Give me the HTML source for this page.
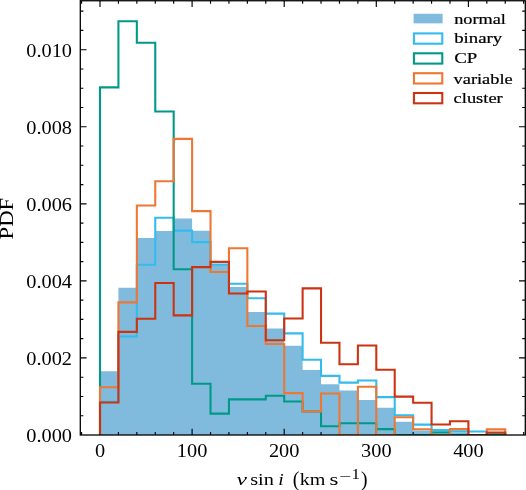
<!DOCTYPE html>
<html><head><meta charset="utf-8"><title>v sin i PDF</title>
<style>html,body{margin:0;padding:0;background:#fff}body{width:526px;height:490px;position:relative;overflow:hidden}</style>
</head><body>
<svg width="526" height="490" viewBox="0 0 526 490" style="position:absolute;left:0;top:0;will-change:transform">
<rect width="526" height="490" fill="#fff"/>
<defs><clipPath id="ax"><rect x="80.3" y="0.75" width="444.99999999999994" height="434.25"/></clipPath></defs>
<path d="M100.00 435.00 L100.00 371.30 L118.42 371.30 L118.42 287.80 L136.84 287.80 L136.84 238.10 L155.26 238.10 L155.26 231.00 L173.68 231.00 L173.68 218.60 L192.10 218.60 L192.10 230.70 L210.52 230.70 L210.52 265.20 L228.94 265.20 L228.94 287.00 L247.36 287.00 L247.36 312.00 L265.78 312.00 L265.78 328.40 L284.20 328.40 L284.20 345.70 L302.62 345.70 L302.62 370.10 L321.04 370.10 L321.04 384.30 L339.46 384.30 L339.46 390.60 L357.88 390.60 L357.88 400.00 L376.30 400.00 L376.30 407.80 L394.72 407.80 L394.72 421.70 L413.14 421.70 L413.14 430.60 L431.56 430.60 L431.56 433.20 L449.98 433.20 L449.98 432.60 L468.40 432.60 L468.40 435.00 L486.82 435.00 L505.24 435.00 Z" fill="#80bbdd" clip-path="url(#ax)"/>
<path d="M81.58 435.0 v-3.1 M81.58 0.75 v3.1 M100.00 435.0 v-6.25 M100.00 0.75 v6.25 M118.42 435.0 v-3.1 M118.42 0.75 v3.1 M136.84 435.0 v-3.1 M136.84 0.75 v3.1 M155.26 435.0 v-3.1 M155.26 0.75 v3.1 M173.68 435.0 v-3.1 M173.68 0.75 v3.1 M192.10 435.0 v-6.25 M192.10 0.75 v6.25 M210.52 435.0 v-3.1 M210.52 0.75 v3.1 M228.94 435.0 v-3.1 M228.94 0.75 v3.1 M247.36 435.0 v-3.1 M247.36 0.75 v3.1 M265.78 435.0 v-3.1 M265.78 0.75 v3.1 M284.20 435.0 v-6.25 M284.20 0.75 v6.25 M302.62 435.0 v-3.1 M302.62 0.75 v3.1 M321.04 435.0 v-3.1 M321.04 0.75 v3.1 M339.46 435.0 v-3.1 M339.46 0.75 v3.1 M357.88 435.0 v-3.1 M357.88 0.75 v3.1 M376.30 435.0 v-6.25 M376.30 0.75 v6.25 M394.72 435.0 v-3.1 M394.72 0.75 v3.1 M413.14 435.0 v-3.1 M413.14 0.75 v3.1 M431.56 435.0 v-3.1 M431.56 0.75 v3.1 M449.98 435.0 v-3.1 M449.98 0.75 v3.1 M468.40 435.0 v-6.25 M468.40 0.75 v6.25 M486.82 435.0 v-3.1 M486.82 0.75 v3.1 M505.24 435.0 v-3.1 M505.24 0.75 v3.1 M523.66 435.0 v-3.1 M523.66 0.75 v3.1 M80.3 415.74 h3.1 M525.3 415.74 h-3.1 M80.3 396.47 h3.1 M525.3 396.47 h-3.1 M80.3 377.20 h3.1 M525.3 377.20 h-3.1 M80.3 357.94 h6.25 M525.3 357.94 h-6.25 M80.3 338.68 h3.1 M525.3 338.68 h-3.1 M80.3 319.41 h3.1 M525.3 319.41 h-3.1 M80.3 300.14 h3.1 M525.3 300.14 h-3.1 M80.3 280.88 h6.25 M525.3 280.88 h-6.25 M80.3 261.62 h3.1 M525.3 261.62 h-3.1 M80.3 242.35 h3.1 M525.3 242.35 h-3.1 M80.3 223.09 h3.1 M525.3 223.09 h-3.1 M80.3 203.82 h6.25 M525.3 203.82 h-6.25 M80.3 184.55 h3.1 M525.3 184.55 h-3.1 M80.3 165.29 h3.1 M525.3 165.29 h-3.1 M80.3 146.03 h3.1 M525.3 146.03 h-3.1 M80.3 126.76 h6.25 M525.3 126.76 h-6.25 M80.3 107.50 h3.1 M525.3 107.50 h-3.1 M80.3 88.23 h3.1 M525.3 88.23 h-3.1 M80.3 68.97 h3.1 M525.3 68.97 h-3.1 M80.3 49.70 h6.25 M525.3 49.70 h-6.25 M80.3 30.44 h3.1 M525.3 30.44 h-3.1 M80.3 11.17 h3.1 M525.3 11.17 h-3.1" stroke="#000" stroke-width="1.15" fill="none"/>
<path d="M100.00 435.00 L100.00 401.80 L118.42 401.80 L118.42 336.50 L136.84 336.50 L136.84 264.70 L155.26 264.70 L155.26 217.80 L173.68 217.80 L173.68 230.60 L192.10 230.60 L192.10 242.10 L210.52 242.10 L210.52 264.60 L228.94 264.60 L228.94 283.80 L247.36 283.80 L247.36 298.20 L265.78 298.20 L265.78 313.60 L284.20 313.60 L284.20 333.40 L302.62 333.40 L302.62 359.80 L321.04 359.80 L321.04 375.90 L339.46 375.90 L339.46 382.60 L357.88 382.60 L357.88 380.50 L376.30 380.50 L376.30 397.10 L394.72 397.10 L394.72 415.30 L413.14 415.30 L413.14 424.60 L431.56 424.60 L431.56 430.00 L449.98 430.00 L449.98 431.40 L468.40 431.40 L468.40 431.50 L486.82 431.50 L486.82 435.00 L505.24 435.00" fill="none" stroke="#33bbee" stroke-width="2.08" stroke-linejoin="miter" stroke-linecap="butt" clip-path="url(#ax)"/>
<path d="M100.00 435.00 L100.00 87.40 L118.42 87.40 L118.42 21.30 L136.84 21.30 L136.84 42.70 L155.26 42.70 L155.26 111.50 L173.68 111.50 L173.68 269.30 L192.10 269.30 L192.10 383.70 L210.52 383.70 L210.52 413.60 L228.94 413.60 L228.94 399.40 L247.36 399.40 L265.78 399.40 L265.78 395.80 L284.20 395.80 L284.20 401.50 L302.62 401.50 L302.62 411.50 L321.04 411.50 L321.04 426.20 L339.46 426.20 L339.46 423.30 L357.88 423.30 L376.30 423.30 L376.30 429.10 L394.72 429.10 L394.72 435.00 L413.14 435.00 L431.56 435.00 L431.56 432.40 L449.98 432.40 L449.98 435.00 L468.40 435.00 L486.82 435.00 L486.82 434.40 L505.24 434.40 L505.24 435.00" fill="none" stroke="#009988" stroke-width="2.08" stroke-linejoin="miter" stroke-linecap="butt" clip-path="url(#ax)"/>
<path d="M100.00 435.00 L100.00 387.20 L118.42 387.20 L118.42 302.40 L136.84 302.40 L136.84 205.50 L155.26 205.50 L155.26 181.20 L173.68 181.20 L173.68 138.90 L192.10 138.90 L192.10 211.10 L210.52 211.10 L210.52 272.00 L228.94 272.00 L228.94 248.30 L247.36 248.30 L247.36 326.00 L265.78 326.00 L265.78 344.00 L284.20 344.00 L284.20 393.10 L302.62 393.10 L302.62 411.50 L321.04 411.50 L321.04 393.50 L339.46 393.50 L339.46 435.00 L357.88 435.00 L357.88 386.80 L376.30 386.80 L376.30 435.00 L394.72 435.00 L394.72 417.30 L413.14 417.30 L413.14 429.20 L431.56 429.20 L431.56 435.00 L449.98 435.00 L449.98 429.10 L468.40 429.10 L468.40 435.00 L486.82 435.00 L486.82 429.40 L505.24 429.40 L505.24 435.00" fill="none" stroke="#ee7733" stroke-width="2.08" stroke-linejoin="miter" stroke-linecap="butt" clip-path="url(#ax)"/>
<path d="M100.00 435.00 L100.00 402.50 L118.42 402.50 L118.42 331.90 L136.84 331.90 L136.84 318.70 L155.26 318.70 L155.26 283.00 L173.68 283.00 L173.68 315.40 L192.10 315.40 L192.10 267.10 L210.52 267.10 L210.52 261.90 L228.94 261.90 L228.94 293.50 L247.36 293.50 L247.36 291.50 L265.78 291.50 L265.78 340.20 L284.20 340.20 L284.20 318.50 L302.62 318.50 L302.62 288.40 L321.04 288.40 L321.04 342.80 L339.46 342.80 L339.46 364.30 L357.88 364.30 L357.88 345.50 L376.30 345.50 L376.30 369.70 L394.72 369.70 L394.72 396.60 L413.14 396.60 L413.14 402.70 L431.56 402.70 L431.56 424.50 L449.98 424.50 L449.98 421.30 L468.40 421.30 L468.40 435.00 L486.82 435.00 L486.82 432.50 L505.24 432.50 L505.24 435.00" fill="none" stroke="#cc3311" stroke-width="2.08" stroke-linejoin="miter" stroke-linecap="butt" clip-path="url(#ax)"/>
<rect x="80.3" y="0.75" width="444.99999999999994" height="434.25" fill="none" stroke="#000" stroke-width="1.3"/>
<rect x="413.59999999999997" y="13.75" width="29.000000000000036" height="9.6" fill="#80bbdd"/>
<rect x="413.9" y="33.4" width="28.400000000000034" height="10.3" fill="none" stroke="#33bbee" stroke-width="2.08"/>
<rect x="413.9" y="53.3" width="28.400000000000034" height="10.3" fill="none" stroke="#009988" stroke-width="2.08"/>
<rect x="413.9" y="73.2" width="28.400000000000034" height="10.3" fill="none" stroke="#ee7733" stroke-width="2.08"/>
<rect x="413.9" y="93.0" width="28.400000000000034" height="10.3" fill="none" stroke="#cc3311" stroke-width="2.08"/>
<text transform="translate(454.20 23.80) scale(1.209 1.0)" text-anchor="start" font-family="Liberation Serif, DejaVu Serif, serif" font-size="15.1" stroke="#000" stroke-width="0.22" fill="#000">normal</text>
<text transform="translate(454.20 43.10) scale(1.245 1.0)" text-anchor="start" font-family="Liberation Serif, DejaVu Serif, serif" font-size="15.1" stroke="#000" stroke-width="0.22" fill="#000">binary</text>
<text transform="translate(454.20 63.10) scale(1.248 1.0)" text-anchor="start" font-family="Liberation Serif, DejaVu Serif, serif" font-size="15.1" stroke="#000" stroke-width="0.22" fill="#000">CP</text>
<text transform="translate(453.60 83.60) scale(1.215 1.0)" text-anchor="start" font-family="Liberation Serif, DejaVu Serif, serif" font-size="15.1" stroke="#000" stroke-width="0.22" fill="#000">variable</text>
<text transform="translate(453.60 103.40) scale(1.222 1.0)" text-anchor="start" font-family="Liberation Serif, DejaVu Serif, serif" font-size="15.1" stroke="#000" stroke-width="0.22" fill="#000">cluster</text>
<text transform="translate(100.00 457.00) scale(1.1 1.0)" text-anchor="middle" font-family="Liberation Serif, DejaVu Serif, serif" font-size="18.5" fill="#000">0</text>
<text transform="translate(192.10 457.00) scale(1.1 1.0)" text-anchor="middle" font-family="Liberation Serif, DejaVu Serif, serif" font-size="18.5" fill="#000">100</text>
<text transform="translate(284.20 457.00) scale(1.1 1.0)" text-anchor="middle" font-family="Liberation Serif, DejaVu Serif, serif" font-size="18.5" fill="#000">200</text>
<text transform="translate(376.30 457.00) scale(1.1 1.0)" text-anchor="middle" font-family="Liberation Serif, DejaVu Serif, serif" font-size="18.5" fill="#000">300</text>
<text transform="translate(468.40 457.00) scale(1.1 1.0)" text-anchor="middle" font-family="Liberation Serif, DejaVu Serif, serif" font-size="18.5" fill="#000">400</text>
<text transform="translate(72.00 441.90) scale(1.1 1.0)" text-anchor="end" font-family="Liberation Serif, DejaVu Serif, serif" font-size="18.5" fill="#000">0.000</text>
<text transform="translate(72.00 364.84) scale(1.1 1.0)" text-anchor="end" font-family="Liberation Serif, DejaVu Serif, serif" font-size="18.5" fill="#000">0.002</text>
<text transform="translate(72.00 287.78) scale(1.1 1.0)" text-anchor="end" font-family="Liberation Serif, DejaVu Serif, serif" font-size="18.5" fill="#000">0.004</text>
<text transform="translate(72.00 210.72) scale(1.1 1.0)" text-anchor="end" font-family="Liberation Serif, DejaVu Serif, serif" font-size="18.5" fill="#000">0.006</text>
<text transform="translate(72.00 133.66) scale(1.1 1.0)" text-anchor="end" font-family="Liberation Serif, DejaVu Serif, serif" font-size="18.5" fill="#000">0.008</text>
<text transform="translate(72.00 56.60) scale(1.1 1.0)" text-anchor="end" font-family="Liberation Serif, DejaVu Serif, serif" font-size="18.5" fill="#000">0.010</text>
<text transform="translate(13.40 218.60) rotate(-90) scale(1.17 1.0)" text-anchor="middle" font-family="Liberation Serif, DejaVu Serif, serif" font-size="19.4" fill="#000">PDF</text>
<text transform="translate(236.50 485.30) scale(1.41 1.0)" text-anchor="start" font-family="Liberation Serif, DejaVu Serif, serif" font-size="16.8" font-style="italic" fill="#000">v</text>
<text transform="translate(250.20 485.30) scale(1.21025 1.0)" text-anchor="start" font-family="Liberation Serif, DejaVu Serif, serif" font-size="16.8" fill="#000">sin</text>
<text transform="translate(278.30 485.30) scale(1.175 1.0)" text-anchor="start" font-family="Liberation Serif, DejaVu Serif, serif" font-size="16.8" font-style="italic" fill="#000">i</text>
<text transform="translate(292.80 485.90) scale(1.12 1.22)" text-anchor="start" font-family="Liberation Serif, DejaVu Serif, serif" font-size="17.6" fill="#000">(</text>
<text transform="translate(299.80 485.30) scale(1.1985000000000001 1.0)" text-anchor="start" font-family="Liberation Serif, DejaVu Serif, serif" font-size="16.8" fill="#000">km</text>
<text transform="translate(329.60 485.30) scale(1.3512499999999998 1.0)" text-anchor="start" font-family="Liberation Serif, DejaVu Serif, serif" font-size="16.8" fill="#000">s</text>
<text transform="translate(338.90 480.50) scale(1.62 1.0)" text-anchor="start" font-family="Liberation Serif, DejaVu Serif, serif" font-size="13.0" fill="#000">−</text>
<text transform="translate(351.60 479.20) scale(1.25 1.0)" text-anchor="start" font-family="Liberation Serif, DejaVu Serif, serif" font-size="13.6" fill="#000">1</text>
<text transform="translate(361.00 485.90) scale(1.12 1.22)" text-anchor="start" font-family="Liberation Serif, DejaVu Serif, serif" font-size="17.6" fill="#000">)</text>
</svg>
</body></html>
